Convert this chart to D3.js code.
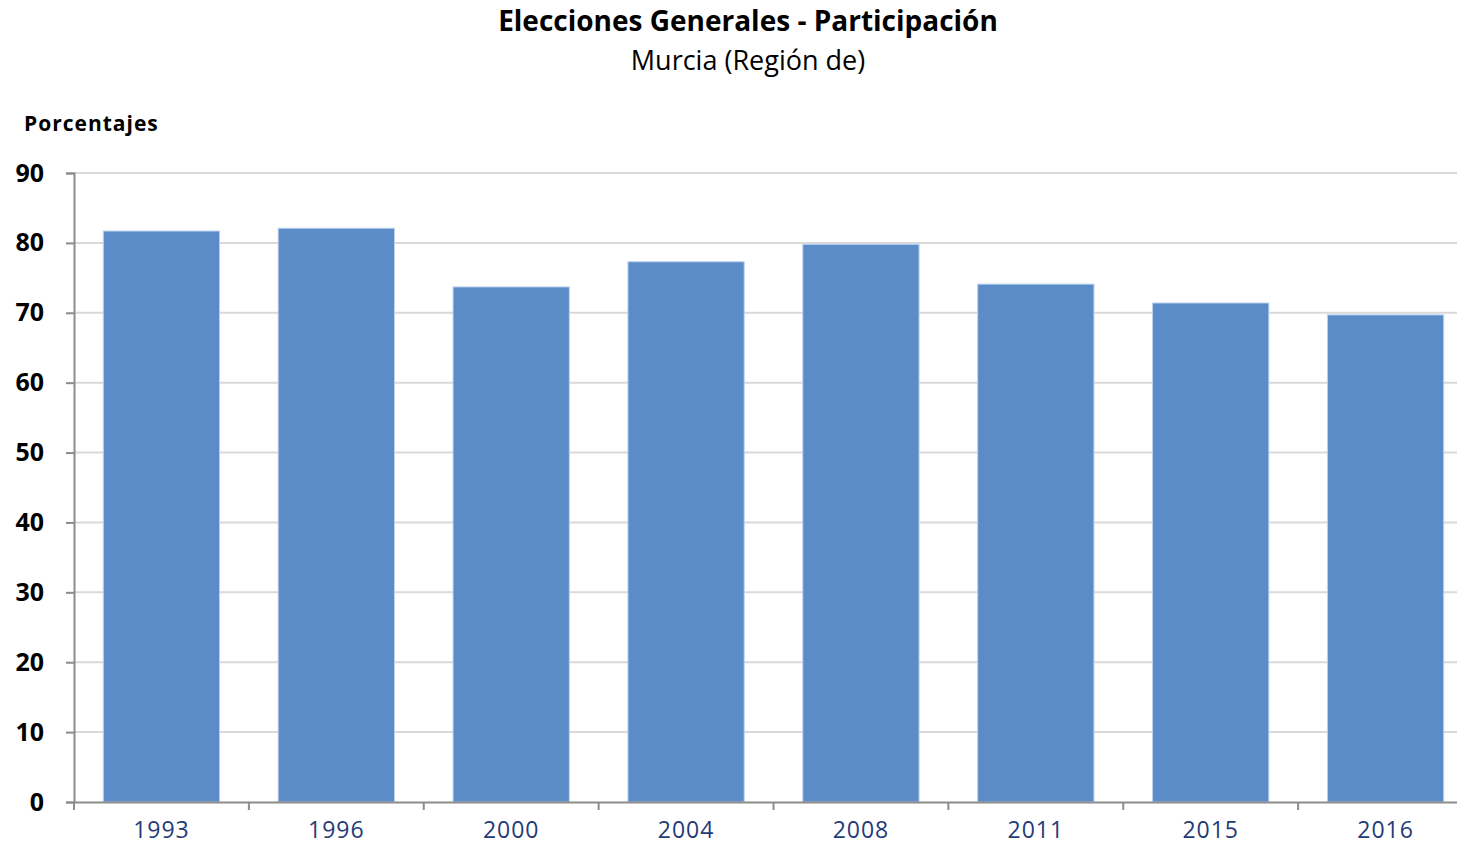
<!DOCTYPE html>
<html>
<head>
<meta charset="utf-8">
<script src="https://cdn.jsdelivr.net/npm/d3@7"></script>
<style>
body{margin:0;background:#fff;}
svg{display:block;font-family:"Open Sans","Noto Sans",sans-serif;}
</style>
</head>
<body>
<div id="chart"></div>
<script>
var w = 1457;
var h = 846;
var font = '"Open Sans","Noto Sans",sans-serif';

// data
var years = ["1993","1996","2000","2004","2008","2011","2015","2016"];
var participacion = [81.7, 82.1, 73.7, 77.3, 79.8, 74.1, 71.4, 69.7];
var yTicks = [0,10,20,30,40,50,60,70,80,90];

var plotLeft = 74, plotRight = 1473, plotTop = 173, plotBottom = 802;

var svg = d3.select("#chart")
	.append("svg")
	.attr("width", w)
	.attr("height", h);

var xscale = d3.scaleBand()
	.domain(years)
	.range([plotLeft, plotRight])
	.paddingInner(0.335)
	.paddingOuter(0.1675);

var yscale = d3.scaleLinear()
	.domain([0, 90])
	.range([plotBottom, plotTop]);

// gridlines
svg.append("g")
	.selectAll("line")
	.data(yTicks.slice(1))
	.enter().append("line")
		.attr("x1", plotLeft)
		.attr("x2", w)
		.attr("y1", function(d){return yscale(d)})
		.attr("y2", function(d){return yscale(d)})
		.style("stroke", "#d9d9d9")
		.style("stroke-width", 2);

// bars
svg.append("g")
	.selectAll("rect")
	.data(participacion)
	.enter().append("rect")
		.attr("x", function(d,i){return xscale(years[i])})
		.attr("y", function(d){return yscale(d)})
		.attr("width", xscale.bandwidth())
		.attr("height", function(d){return plotBottom - yscale(d)})
		.style("fill", "#5b8cc8")
		.style("stroke", "#bcd3ee")
		.style("stroke-width", 1);

// y axis
var yAxis = svg.append("g")
	.attr("transform", "translate(" + plotLeft + ",0)")
	.call(d3.axisLeft(yscale).tickValues(yTicks).tickSize(8).tickPadding(22));
yAxis.select(".domain").style("stroke", "#8c8c8c").style("stroke-width", 2);
yAxis.selectAll(".tick line").style("stroke", "#8c8c8c").style("stroke-width", 2);
yAxis.selectAll(".tick text")
	.style("font-family", font)
	.style("font-size", "25px")
	.style("font-weight", "bold")
	.style("fill", "#000");

// x axis
var xAxis = svg.append("g")
	.attr("transform", "translate(0," + plotBottom + ")")
	.call(d3.axisBottom(xscale).tickSize(0).tickPadding(20));
xAxis.select(".domain").style("stroke", "#8c8c8c").style("stroke-width", 2);
xAxis.selectAll(".tick text")
	.style("font-family", font)
	.style("font-size", "23px")
	.style("letter-spacing", "1px")
	.style("fill", "#1f3c78");

// category boundary ticks
svg.append("g")
	.selectAll("line")
	.data(years)
	.enter().append("line")
		.attr("x1", function(d){return xscale(d) - xscale.step()*xscale.paddingOuter()})
		.attr("x2", function(d){return xscale(d) - xscale.step()*xscale.paddingOuter()})
		.attr("y1", plotBottom)
		.attr("y2", plotBottom + 8)
		.style("stroke", "#8c8c8c")
		.style("stroke-width", 2);

// titles
svg.append("text")
	.attr("x", 748).attr("y", 31)
	.attr("text-anchor", "middle")
	.style("font-size", "28px").style("font-weight", "bold")
	.text("Elecciones Generales - Participación");
svg.append("text")
	.attr("x", 748).attr("y", 70)
	.attr("text-anchor", "middle")
	.style("font-size", "27px")
	.text("Murcia (Región de)");
svg.append("text")
	.attr("x", 24).attr("y", 131)
	.style("font-size", "21px").style("font-weight", "bold")
	.style("letter-spacing", "1px")
	.text("Porcentajes");
</script>
</body>
</html>
